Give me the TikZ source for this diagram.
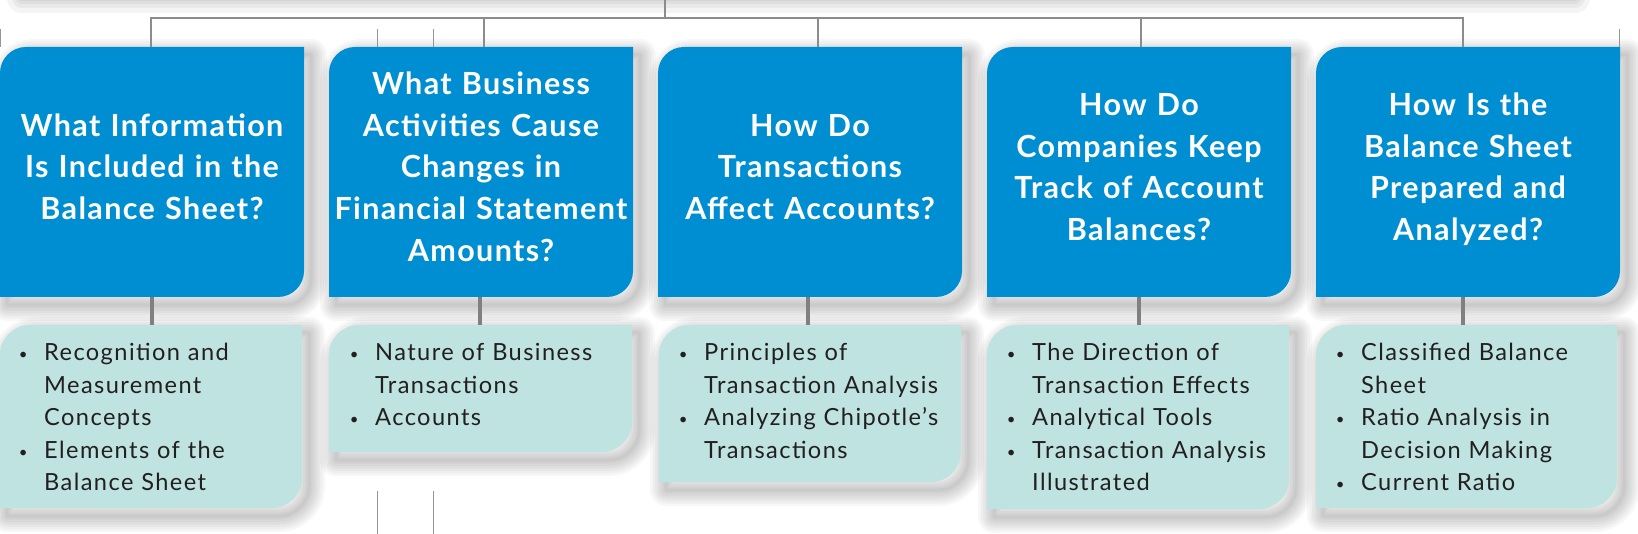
\documentclass[tikz,border=0pt]{standalone}
\usepackage{fontspec}
\setmainfont{Lato}
\newfontfamily\itemfont[LetterSpace=6]{Lato}
\newfontfamily\titlefont[LetterSpace=4.5]{Lato}
\usetikzlibrary{calc}
\definecolor{qblue}{RGB}{0,142,210}
\definecolor{qlight}{RGB}{190,227,224}
\definecolor{qtext}{RGB}{35,31,32}
\definecolor{qline}{RGB}{140,140,140}
\definecolor{qline2}{RGB}{128,128,128}
\definecolor{qstray}{RGB}{150,150,150}
\definecolor{qwhite}{RGB}{255,255,255}
% #1 options, #2 left, #3 top, #4 right, #5 bottom, #6 radius
\newcommand\cardfill[6]{\path[#1] (#2,-#5) -- (#2,{-#3-#6}) arc[start angle=180,end angle=90,radius=#6pt] -- (#4,-#3) -- (#4,{-#5+#6}) arc[start angle=0,end angle=-90,radius=#6pt] -- cycle;}
% #1 name, #2 left, #3 top, #4 right, #5 bottom, #6 radius, #7 colour
\newcommand\card[7]{%
  \foreach \w in {32,27,22,17,12,7,3}{\cardfill{draw=black,line width=\w pt,opacity=0.032,line join=round,shift={(7,-8)}}{#2}{#3}{#4}{#5}{#6}}
  \cardfill{fill=#7}{#2}{#3}{#4}{#5}{#6}
  \node[inner sep=0pt, minimum width={(#4-#2)*1pt}, minimum height={(#5-#3)*1pt}] (#1) at ({(#2+#4)/2},{-(#3+#5)/2}) {};
}
\newcommand\bl{\leavevmode\llap{\makebox[0pt]{\raisebox{1.2pt}{\fontsize{15pt}{15pt}\selectfont\textbullet}}\hspace{21pt}}}
\tikzset{
  title/.style={text=qwhite, font=\titlefont\fontsize{30.5pt}{41.7pt}\selectfont\bfseries, text width=360pt, align=center, inner sep=0pt, anchor=base},
  items/.style={text=qtext, font=\itemfont\fontsize{23.6pt}{32.5pt}\selectfont, text width=300pt, align=left, inner sep=0pt, anchor=base west},
  conn/.style={draw=qline, line width=2pt},
  sub/.style={draw=qline2, line width=3.5pt},
  stray/.style={draw=qstray, line width=1pt},
}
\begin{document}
\begin{tikzpicture}[x=1pt,y=1pt]
\useasboundingbox[fill=white] (0,0) rectangle (1638,-534);
% shadow of the parent box above the picture
\foreach \w in {30,20,12,6}{\draw[black,opacity=0.045,line width=\w pt,line join=round] (22,60) rectangle (1575,2);}
% cards
\card{q1}{0}{47}{304}{297}{26}{qblue}
\card{q2}{329}{47}{633}{297}{26}{qblue}
\card{q3}{658}{47}{962}{297}{26}{qblue}
\card{q4}{987}{47}{1291}{297}{26}{qblue}
\card{q5}{1316}{47}{1620}{297}{26}{qblue}
\card{a1}{0}{325}{302}{508}{30}{qlight}
\card{a2}{329}{325}{632}{452}{30}{qlight}
\card{a3}{659}{325}{961}{482}{30}{qlight}
\card{a4}{987}{325}{1289}{509}{30}{qlight}
\card{a5}{1316}{325}{1617}{508}{30}{qlight}
% titles
\node[title] (t1) at (152,-136.3) {What Information\\Is Included in the\\Balance Sheet?};
\node[title] (t2) at (481,-94.6) {What Business\\Activities Cause\\Changes in\\Financial Statement\\Amounts?};
\node[title] (t3) at (810,-136.3) {How Do\\Transactions\\Affect Accounts?};
\node[title] (t4) at (1139,-115.45) {How Do\\Companies Keep\\Track of Account\\Balances?};
\node[title] (t5) at (1468,-115.45) {How Is the\\Balance Sheet\\Prepared and\\Analyzed?};
% items
\node[items] (b1) at (44,-361) {\bl Recognition and\\Measurement\\Concepts\\\bl Elements of the\\Balance Sheet};
\node[items] (b2) at (375,-361) {\bl Nature of Business\\Transactions\\\bl Accounts};
\node[items] (b3) at (704,-361) {\bl Principles of\\Transaction Analysis\\\bl Analyzing Chipotle’s\\Transactions};
\node[items] (b4) at (1032,-361) {\bl The Direction of\\Transaction Effects\\\bl Analytical Tools\\\bl Transaction Analysis\\Illustrated};
\node[items] (b5) at (1361,-361) {\bl Classified Balance\\Sheet\\\bl Ratio Analysis in\\Decision Making\\\bl Current Ratio};
% connectors
\coordinate (root) at (665,0);
\coordinate (bus) at (665,-18);
\draw[conn] (root) -- (bus);
\draw[conn] ([xshift=-1pt]q1.north) |- (bus);
\draw[conn] ([xshift=3pt]q2.north) |- (bus);
\draw[conn] ([xshift=8pt]q3.north) |- (bus);
\draw[conn] ([xshift=2pt]q4.north) |- (bus);
\draw[conn] ([xshift=-5pt]q5.north) |- (bus);
\draw[sub] (q1.south) -- ([xshift=1pt]a1.north);
\draw[sub] ([xshift=-1pt]q2.south) -- ([xshift=-0.5pt]a2.north);
\draw[sub] ([xshift=-2pt]q3.south) -- ([xshift=-2pt]a3.north);
\draw[sub] (q4.south) -- ([xshift=1pt]a4.north);
\draw[sub] ([xshift=-5pt]q5.south) -- ([xshift=-3.5pt]a5.north);
% thin stray lines
\draw[stray] (0.5,-29) -- (0.5,-47);
\draw[stray] (377,-29) -- (377,-47);
\draw[stray] (433,-29) -- (433,-47);
\draw[stray] (1619,-29) -- (1619,-47);
\draw[stray] (377,-491) -- (377,-534);
\draw[stray] (433,-491) -- (433,-534);
\end{tikzpicture}
\end{document}
